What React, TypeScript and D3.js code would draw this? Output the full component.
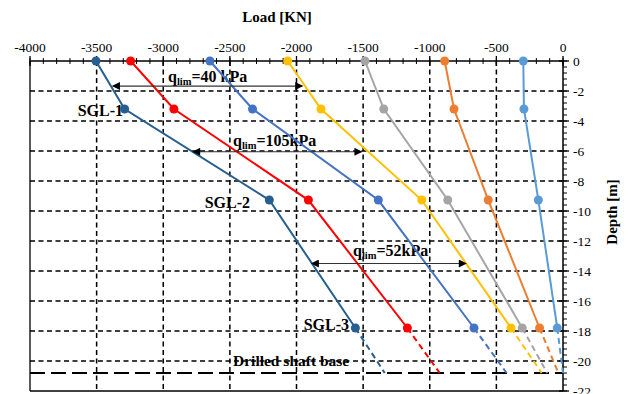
import * as d3 from 'd3';

// load [kN] read at each strain gauge level
const gaugeDepths = [0, -3.2, -9.27, -17.8];
const baseDepth = -20.8;

const loadsA = [-3505, -3290, -2204, -1558];
const loadsB = [-3245, -2920, -1911, -1168];
const loadsC = [-2650, -2330, -1386, -668];
const loadsD = [-2066, -1816, -1060, -390];
const loadsE = [-1486, -1345, -865, -306];
const loadsF = [-888, -818, -561, -176];
const loadsG = [-298, -293, -185, -43];
// dashed extrapolation down to the shaft base
const baseLoads = [-1338, -925, -423, -160, -118, -35, 0];

const loadTicks = [-4000, -3500, -3000, -2500, -2000, -1500, -1000, -500, 0];
const depthTicks = [0, -2, -4, -6, -8, -10, -12, -14, -16, -18, -20, -22];

const qlimLabels = ['=40 kPa', '=105kPa', '=52kPa'];
const qlimFrom = [-3379, -2777, -1886];
const qlimTo = [-1956, -1511, -728];
const qlimDepth = [-1.67, -6.05, -13.5];

const sglLabels = ['SGL-1', 'SGL-2', 'SGL-3'];

const colors = ['#265e8f', '#ff0000', '#4472c4', '#ffc000', '#a5a5a5', '#ed7d31', '#5b9bd5'];

export default function App() {
  const width = 632;
  const height = 394;
  const x = d3.scaleLinear().domain([-4000, 0]).range([30, 563]);
  const y = d3.scaleLinear().domain([0, -22]).range([61, 391]);

  const allLoads = [loadsA, loadsB, loadsC, loadsD, loadsE, loadsF, loadsG];
  const line = d3.line<[number, number]>()
    .x(d => x(d[0]))
    .y(d => y(d[1]));

  const font = '"Liberation Serif", "Times New Roman", serif';
  const gridX = loadTicks.slice(1, -1);
  const gridY = depthTicks.slice(1, -1);
  const minorX = d3.range(-4000, 1, 100);
  const minorY = d3.range(0, -22.001, -0.4);

  // label anchors (right end of the text, in load / depth)
  const sglAt: [number, number][] = [
    [x.invert(123), -3.65],
    [x.invert(250), -9.78],
    [x.invert(349), -17.9],
  ];
  const qTextAt: [number, number][] = [
    [x.invert(168), -1.38],
    [x.invert(233), -5.67],
    [x.invert(353), -12.99],
  ];

  return (
    <svg width={width} height={height} style={{ position: 'absolute', left: 0, top: 0, background: '#fff' }}
      fontFamily={font}>
      <defs>
        <marker id="ah" viewBox="0 0 10 10" refX="9" refY="5" markerWidth="9" markerHeight="8"
          markerUnits="userSpaceOnUse" orient="auto-start-reverse">
          <path d="M0,0 L10,5 L0,10 z" fill="#000" />
        </marker>
      </defs>

      <text x={277} y={22} textAnchor="middle" fontWeight="bold" fontSize={15}>Load [KN]</text>
      <text transform={`translate(617,212) rotate(-90)`} textAnchor="middle" fontWeight="bold" fontSize={15}>Depth [m]</text>

      {/* annotation texts sit beneath the curves */}
      {sglLabels.map((s, i) => (
        <text key={s} x={x(sglAt[i][0])} y={y(sglAt[i][1])} textAnchor="end" fontWeight="bold" fontSize={16}>{s}</text>
      ))}
      <text x={233} y={366} fontWeight="bold" fontSize={15.5}>Drilled shaft base</text>
      {qlimLabels.map((s, i) => (
        <text key={s} x={x(qTextAt[i][0])} y={y(qTextAt[i][1])} fontWeight="bold" fontSize={16}>
          q<tspan fontSize={10.5} dy={3}>lim</tspan><tspan dy={-3}>{s}</tspan>
        </text>
      ))}

      {/* grid */}
      {gridX.map(v => (
        <line key={'gx' + v} x1={x(v)} x2={x(v)} y1={y(0)} y2={y(-22)} stroke="#000" strokeWidth={1.5} strokeDasharray="5 3.5" />
      ))}
      {gridY.map(v => (
        <line key={'gy' + v} x1={x(-4000)} x2={x(0)} y1={y(v)} y2={y(v)} stroke="#000" strokeWidth={1.5} strokeDasharray="5 3.5" />
      ))}
      <line x1={x(-4000)} x2={x(0)} y1={y(baseDepth)} y2={y(baseDepth)} stroke="#000" strokeWidth={2} strokeDasharray="15 6" />

      {/* frame and axes */}
      <line x1={x(-4000)} x2={x(-4000)} y1={y(0)} y2={y(-22)} stroke="#000" strokeWidth={1.3} />
      <line x1={x(-4000)} x2={x(0)} y1={y(-22)} y2={y(-22)} stroke="#000" strokeWidth={1.3} />
      <line x1={x(-4000)} x2={x(0)} y1={y(0)} y2={y(0)} stroke="#000" strokeWidth={1.5} />
      <line x1={x(0)} x2={x(0)} y1={y(0)} y2={y(-22)} stroke="#000" strokeWidth={1.5} />
      {minorX.map(v => (
        <line key={'mx' + v} x1={x(v)} x2={x(v)} y1={y(0) - 3} y2={y(0) + 3} stroke="#000" strokeWidth={1} />
      ))}
      {loadTicks.map(v => (
        <g key={'tx' + v}>
          <line x1={x(v)} x2={x(v)} y1={y(0) - 5} y2={y(0) + 5} stroke="#000" strokeWidth={1.3} />
          <text x={x(v)} y={52} textAnchor="middle" fontSize={13.5}>{v}</text>
        </g>
      ))}
      {minorY.map(v => (
        <line key={'my' + v} x1={x(0)} x2={x(0) + 4} y1={y(v)} y2={y(v)} stroke="#000" strokeWidth={1} />
      ))}
      {depthTicks.map(v => (
        <g key={'ty' + v}>
          <line x1={x(0) - 4} x2={x(0) + 6} y1={y(v)} y2={y(v)} stroke="#000" strokeWidth={1.3} />
          <text x={573} y={y(v) + 4.5} fontSize={13.5}>{v}</text>
        </g>
      ))}

      {/* load distribution curves */}
      {allLoads.map((loads, i) => {
        const pts = loads.map((l, j) => [l, gaugeDepths[j]] as [number, number]);
        const ext: [number, number][] = [pts[pts.length - 1], [baseLoads[i], baseDepth]];
        return (
          <g key={'s' + i}>
            <path d={line(pts) ?? ''} fill="none" stroke={colors[i]} strokeWidth={2} />
            <path d={line(ext) ?? ''} fill="none" stroke={colors[i]} strokeWidth={2} strokeDasharray="6 4" />
            {pts.map((p, j) => (
              <circle key={j} cx={x(p[0])} cy={y(p[1])} r={4.5} fill={colors[i]} />
            ))}
          </g>
        );
      })}

      {/* q_lim arrows */}
      {qlimLabels.map((s, i) => (
        <line key={'a' + s} x1={x(qlimFrom[i])} x2={x(qlimTo[i])} y1={y(qlimDepth[i])} y2={y(qlimDepth[i])}
          stroke="#333" strokeWidth={1.2} markerStart="url(#ah)" markerEnd="url(#ah)" />
      ))}
    </svg>
  );
}
